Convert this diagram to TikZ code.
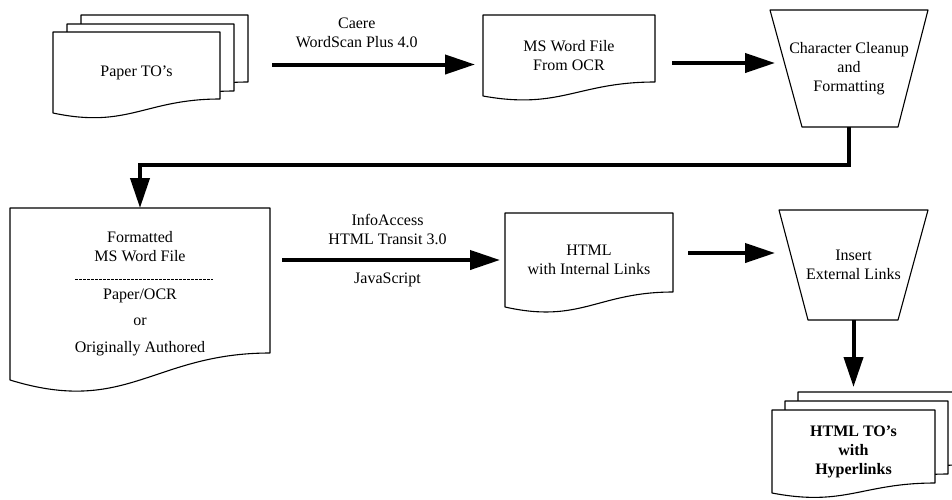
\documentclass[tikz,border=0pt]{standalone}
\usepackage{fontspec}
\setmainfont{Liberation Serif}
\usetikzlibrary{calc,arrows.meta,backgrounds}

\newcommand\docsheet[3]{%
  \draw[sheet] (#1.north west) -- (#1.north east) -- ($(#1.south east)+(0,-#2)$)
    .. controls ($(#1.south east)!0.45!(#1.south west)+(0,-#2)$) and ($(#1.south west)!0.45!(#1.south east)+(0,#3)$)
    .. (#1.south west) -- cycle;}
\newcommand\funnel[3]{%
  \draw[sheet] (#1.north west) -- (#1.north east) -- ([xshift=-#3]#1.south east) -- ([xshift=#2]#1.south west) -- cycle;}

\begin{document}
\begin{tikzpicture}[x=1pt,y=-1pt,>={Triangle[length=30pt,width=19pt]},
    box/.style={inner sep=0pt,outer sep=0pt,align=center,font=\fontsize{16}{19}\selectfont},
    boldbox/.style={box,font=\fontsize{16}{19}\selectfont\bfseries},
    lbl/.style={align=center,font=\fontsize{16}{19}\selectfont},
    sheet/.style={draw,fill=white,line width=1.1pt,line join=round},
    flow/.style={->,line width=4pt},
    sep/.style={line width=0.8pt,dash pattern=on 2.5pt off 1.5pt}]
        \useasboundingbox (0,0) rectangle (952,499);
        \node[box,minimum width=167pt,minimum height=81pt] (paper) at (136.5,72.5) {Paper TO's};
        \node[box,minimum width=167pt,minimum height=81pt] (paperB) at ($(paper)+(14,-8)$) {};
        \node[box,minimum width=167pt,minimum height=81pt] (paperC) at ($(paper)+(28,-17)$) {};
        \node[box,minimum width=172pt,minimum height=81pt] (ocr) at (569,55.5) {MS Word File\\From OCR};
        \node[box,minimum width=158pt,minimum height=117pt] (clean) at (849,68.5) {Character Cleanup\\and\\Formatting};
        \node[box,minimum width=260pt,minimum height=172pt] (fmt) at (140,294)
            {Formatted\\MS Word File\\[19pt]Paper/OCR\\[7pt]or\\[8pt]Originally Authored};
        \node[box,minimum width=168pt,minimum height=94pt] (html) at (589,260) {HTML\\with Internal Links};
        \node[box,minimum width=149pt,minimum height=110pt] (insert) at (853.5,265) {Insert\\External Links};
        \node[boldbox,minimum width=163pt,minimum height=83pt] (htmlto) at (853.5,451.5) {HTML TO's\\with\\Hyperlinks};
        \node[box,minimum width=163pt,minimum height=83pt] (htmltoB) at ($(htmlto)+(13,-9)$) {};
        \node[box,minimum width=163pt,minimum height=83pt] (htmltoC) at ($(htmlto)+(26,-18)$) {};
        \begin{scope}[on background layer]
            \docsheet{paperC}{14}{16}
            \docsheet{paperB}{14}{16}
            \docsheet{paper}{14}{16}
            \docsheet{ocr}{14}{14}
            \funnel{clean}{32pt}{30pt}
            \docsheet{fmt}{27}{36}
            \docsheet{html}{15}{17}
            \funnel{insert}{29pt}{30pt}
            \docsheet{htmltoC}{10}{14}
            \docsheet{htmltoB}{10}{14}
            \docsheet{htmlto}{10}{14}
        \end{scope}
        \draw[sep] ([shift={(-65,-15)}]fmt.center) -- ([shift={(73,-15)}]fmt.center);
        \coordinate (scanout) at ([yshift=8pt]paper.east);
        \draw[flow,shorten <=52pt,shorten >=8pt] (scanout) -- (scanout -| ocr.west)
            node[lbl,pos=0.52,above=11pt]{Caere\\WordScan Plus 4.0};
        \coordinate (ocrout) at ([yshift=-7.5pt]ocr.east);
        \draw[flow,shorten <=17pt,shorten >=-5pt] (ocrout) -- (ocrout -| clean.west);
        \draw[flow,line join=miter] (clean.south) -- ++(0,38) -| (fmt.north);
        \draw[flow,shorten <=12pt,shorten >=5pt] (fmt.east |- html.west) -- (html.west)
            node[lbl,midway,above=10pt]{InfoAccess\\HTML Transit 3.0}
            node[lbl,midway,below=8pt]{JavaScript};
        \coordinate (linkout) at ([yshift=7pt]html.east);
        \draw[flow,shorten <=15pt,shorten >=4pt] (linkout) -- (linkout -| insert.west);
        \draw[flow,shorten >=23pt] (insert.south) -- (htmlto.north);
    \end{tikzpicture}
\end{document}
